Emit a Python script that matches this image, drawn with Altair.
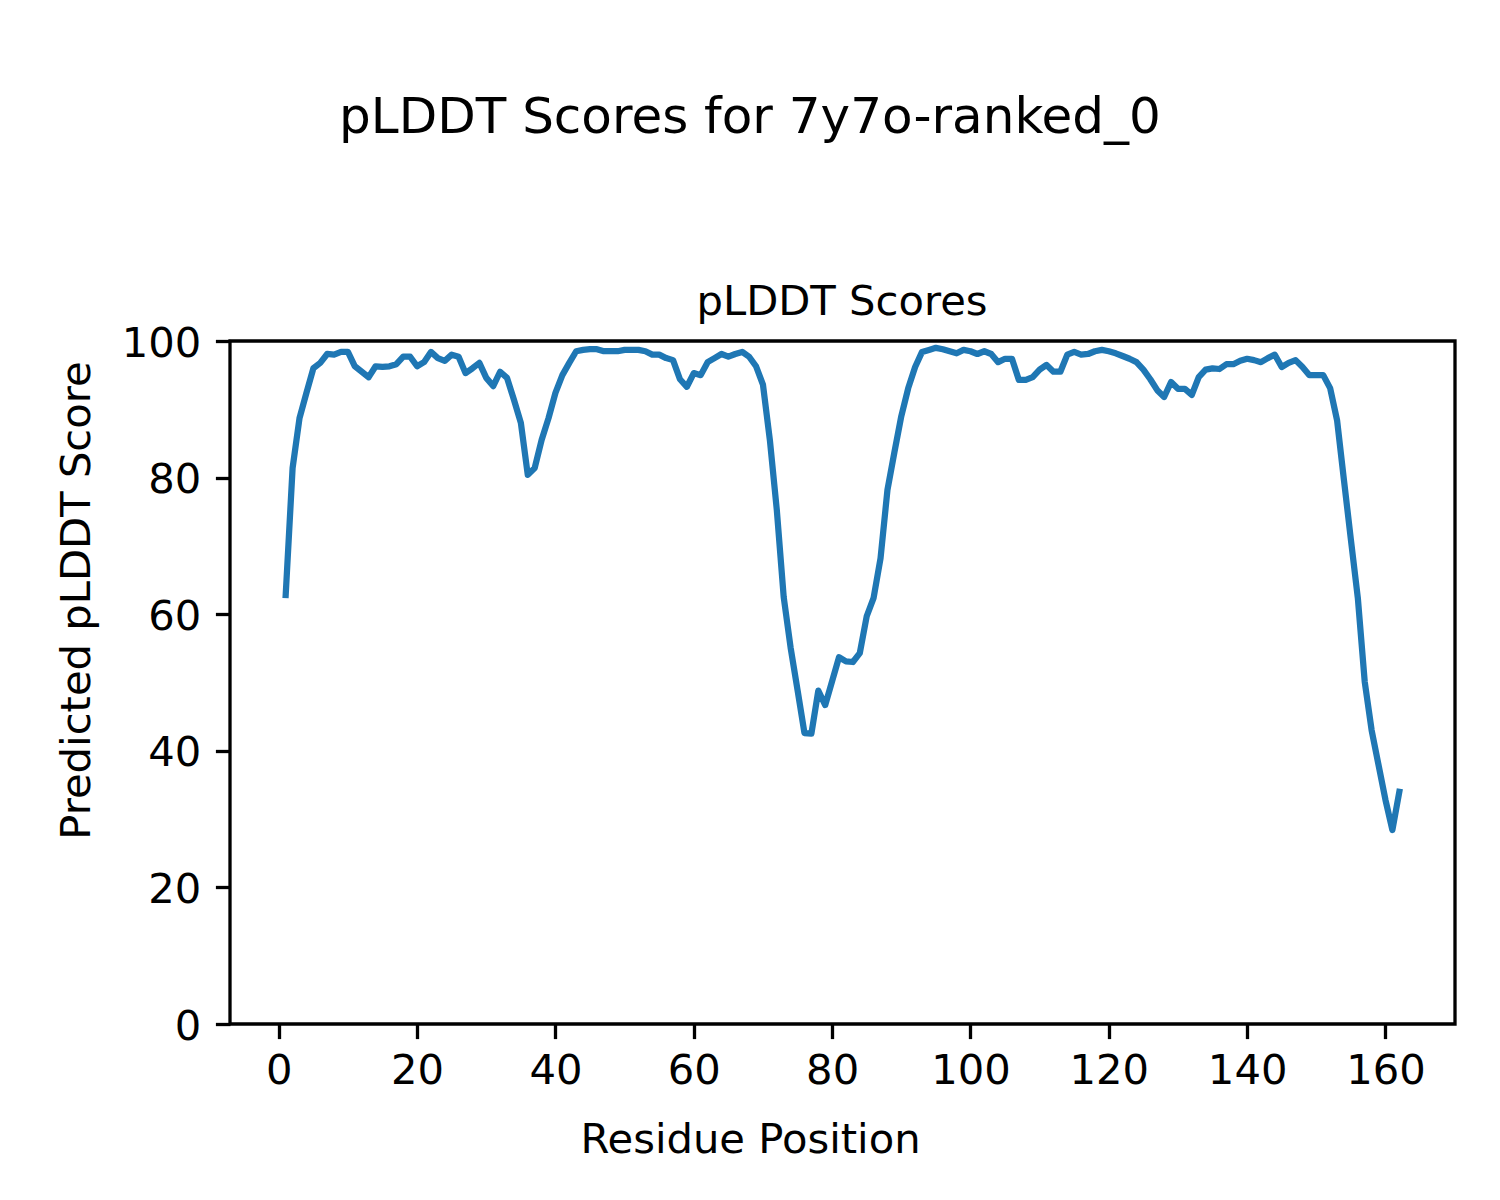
import altair as alt
import pandas as pd

residues = list(range(1, 163))
plddt = [
    62.8, 81.4, 88.7, 92.4, 96.0, 96.8, 98.1, 98.0, 98.4, 98.4,
    96.3, 95.5, 94.7, 96.3, 96.2, 96.3, 96.6, 97.7, 97.7, 96.3,
    96.9, 98.4, 97.5, 97.1, 98.0, 97.7, 95.3, 96.0, 96.8, 94.6,
    93.4, 95.5, 94.6, 91.4, 88.0, 80.4, 81.4, 85.5, 88.7, 92.4,
    95.0, 96.8, 98.5, 98.7, 98.8, 98.8, 98.5, 98.5, 98.5, 98.7,
    98.7, 98.7, 98.5, 98.0, 98.0, 97.5, 97.2, 94.4, 93.3, 95.3,
    95.0, 96.9, 97.5, 98.1, 97.7, 98.1, 98.4, 97.7, 96.3, 93.6,
    85.5, 75.3, 62.5, 55.1, 48.9, 42.6, 42.5, 48.8, 46.7, 50.2,
    53.7, 53.1, 53.0, 54.3, 59.7, 62.4, 68.2, 78.2, 83.7, 89.0,
    93.1, 96.2, 98.4, 98.7, 99.0, 98.8, 98.5, 98.2, 98.7, 98.5,
    98.1, 98.5, 98.1, 96.9, 97.4, 97.4, 94.3, 94.3, 94.7, 95.8,
    96.5, 95.5, 95.5, 98.0, 98.4, 98.0, 98.1, 98.5, 98.7, 98.5,
    98.2, 97.8, 97.4, 96.9, 95.8, 94.4, 92.8, 91.8, 94.0, 93.0,
    93.0, 92.1, 94.7, 95.8, 96.0, 95.9, 96.6, 96.6, 97.1, 97.4,
    97.2, 96.9, 97.5, 98.0, 96.2, 96.8, 97.2, 96.2, 95.0, 95.0,
    95.0, 93.1, 88.4, 79.6, 70.9, 62.4, 50.1, 43.0, 37.9, 32.8,
    28.4, 34.0,
]
x_ticks = [0, 20, 40, 60, 80, 100, 120, 140, 160]
y_ticks = [0, 20, 40, 60, 80, 100]
fig_title = "pLDDT Scores for 7y7o-ranked_0"
ax_title = "pLDDT Scores"
x_label = "Residue Position"
y_label = "Predicted pLDDT Score"

df = pd.DataFrame({"residue": residues, "plddt": plddt})

FONT = "DejaVu Sans"
FS = 41.7
W, H = 1225, 683

line = alt.Chart(df).mark_line(
    color="#1f77b4", strokeWidth=6.25, strokeJoin="round", strokeCap="square", clip=True
).encode(
    x=alt.X(
        "residue:Q",
        scale=alt.Scale(domain=[-7.05, 170.05], nice=False, zero=False),
        axis=alt.Axis(
            values=x_ticks, title=x_label, grid=False, domain=False,
            tickSize=14.6, tickWidth=3.3, tickColor="black",
            labelFont=FONT, labelFontSize=FS, labelColor="black",
            labelPadding=11.8, labelBaseline="top",
            titleFont=FONT, titleFontSize=FS, titleFontWeight="normal", titleColor="black",
            titleX=520, titleY=128, titleAlign="center", titleBaseline="alphabetic",
        ),
    ),
    y=alt.Y(
        "plddt:Q",
        scale=alt.Scale(domain=[0, 100], nice=False),
        axis=alt.Axis(
            values=y_ticks, title=y_label, grid=False, domain=False,
            tickSize=14.6, tickWidth=3.3, tickColor="black",
            labelFont=FONT, labelFontSize=FS, labelColor="black",
            labelPadding=14.6, labelOffset=2,
            titleFont=FONT, titleFontSize=FS, titleFontWeight="normal", titleColor="black",
            titleX=-141, titleY=259, titleAlign="center", titleBaseline="alphabetic",
            titleAngle=270,
        ),
    ),
)

titles = pd.DataFrame({"t": [fig_title]})
main_title = alt.Chart(titles).mark_text(
    font=FONT, fontSize=50, color="black", align="center", baseline="alphabetic"
).encode(text="t:N", x=alt.value(520), y=alt.value(-208))

sub = pd.DataFrame({"t": [ax_title]})
sub_title = alt.Chart(sub).mark_text(
    font=FONT, fontSize=FS, color="black", align="center", baseline="alphabetic"
).encode(text="t:N", x=alt.value(612), y=alt.value(-26))

chart = alt.layer(line, main_title, sub_title).properties(
    width=W, height=H,
    padding={"left": 222, "top": 333, "right": 37, "bottom": 176},
    autosize=alt.AutoSizeParams(type="none"),
    background="white",
).configure_view(stroke="black", strokeWidth=3.3)

chart.save("out.html", embed_options={"renderer": "svg", "actions": False})
